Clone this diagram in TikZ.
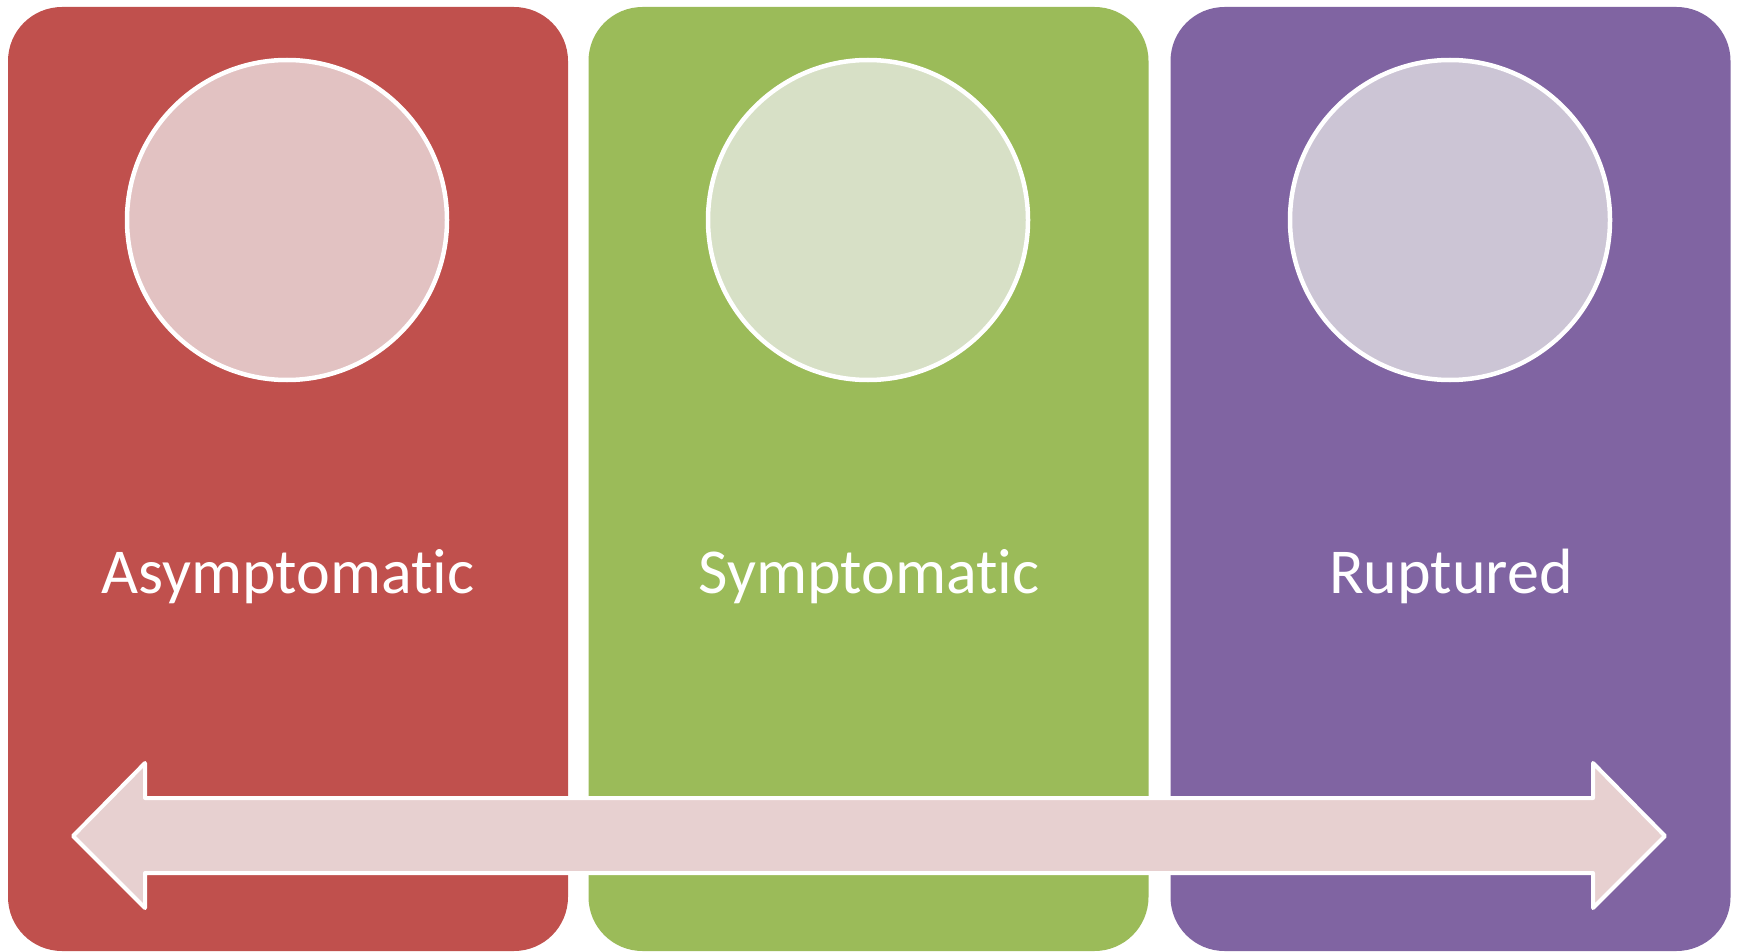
\documentclass[tikz,border=0pt]{standalone}
\usepackage{fontspec}
\setmainfont{Carlito}[RawFeature={-liga}]
\definecolor{redbar}{HTML}{C0504D}
\definecolor{greenbar}{HTML}{9BBB59}
\definecolor{purplebar}{HTML}{8064A2}
\definecolor{redlight}{HTML}{E2C2C2}
\definecolor{greenlight}{HTML}{D7E0C6}
\definecolor{purplelight}{HTML}{CCC5D5}
\definecolor{arrowfill}{HTML}{E7D0D0}
\begin{document}
\begin{tikzpicture}[x=1pt,y=-1pt,
  panel/.style={rectangle, rounded corners=54pt, inner sep=0pt,
    minimum width=560pt, minimum height=944pt, draw=none},
  disc/.style={circle, inner sep=0pt, minimum size=320pt, draw=white, line width=4.5pt},
  label/.style={text=white, font=\fontsize{64}{76}\selectfont, anchor=base, inner sep=0pt}]
\useasboundingbox (0,0) rectangle (1739,952);
\fill[white] (0,0) rectangle (1739,952);

% three stage panels
\node[panel, fill=redbar]    (p1) at (288,479) {};
\node[panel, fill=greenbar]  (p2) at (868.5,479) {};
\node[panel, fill=purplebar] (p3) at (1450.5,479) {};

% circles at the top of each panel
\node[disc, fill=redlight]    (c1) at (287,220) {};
\node[disc, fill=greenlight]  (c2) at (868,220) {};
\node[disc, fill=purplelight] (c3) at (1450,220) {};

% stage names
\node[label] (t1) at (288,593) {Asymptomatic};
\node[label] (t2) at (869,593) {Symptomatic};
\node[label] (t3) at (1451,593) {Ruptured};

% double-headed arrow across the panels
\draw[fill=arrowfill, draw=white, line width=4pt, line join=round]
  (73,836) -- (145,763) -- (145,798) -- (1593,798) -- (1593,763) -- (1665,836)
  -- (1593,908) -- (1593,873) -- (145,873) -- (145,908) -- cycle;
\end{tikzpicture}
\end{document}
